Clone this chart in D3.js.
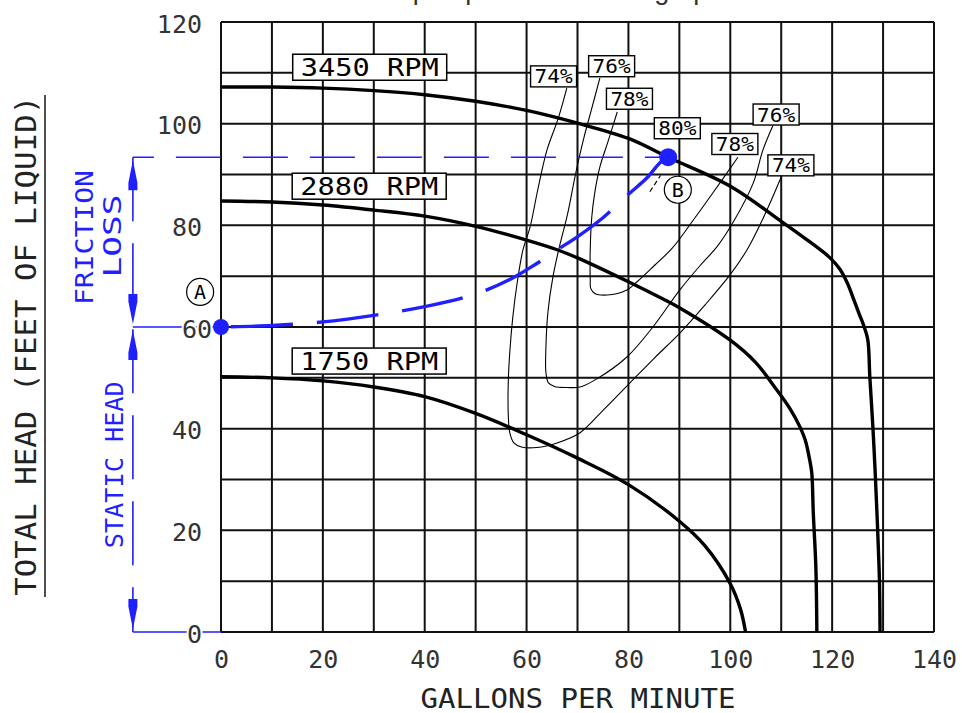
<!DOCTYPE html>
<html><head><meta charset="utf-8">
<script src="https://cdn.jsdelivr.net/npm/d3@7"></script>
<style>body{margin:0;background:#fff}svg{display:block}</style>
</head><body>
<svg id="chart" width="962" height="713"></svg>
<script>
// ---------- data ----------
const xTicks = [0, 20, 40, 60, 80, 100, 120, 140];
const yTicks = [0, 20, 40, 60, 80, 100, 120];
const rpmNames = ["3450 RPM", "2880 RPM", "1750 RPM"];
const rpm3450 = [[0,107.2],[10,107.2],[20,107],[30,106.5],[40,105.7],[50,104.4],[60,102.6],[70,100.1],[80,97.1],[87.8,93.4],[100,87.7],[110,80.8],[115,77.2],[119.6,73.6],[121.5,71.4],[123,68.6],[124.1,65.8],[125.3,62.6],[126.3,60],[127,57.5],[127.4,50.2],[128,40.3],[128.4,32.5],[128.8,23.4],[129.3,9.6],[129.4,0]];
const rpm2880 = [[0,84.8],[10,84.6],[20,84],[30,83],[40,81.8],[50,79.8],[60,77.1],[66,75.2],[70,73.6],[80,68.9],[86.8,65.5],[90,63.8],[100,57.4],[105,53],[109,47.8],[111.8,43.8],[113.7,40.3],[114.7,37.8],[115.6,33.8],[116,31.3],[116.3,23.4],[116.8,12.8],[117,0]];
const rpm1750 = [[0,50.2],[10,50],[20,49.4],[30,48.2],[40,46.3],[50,43],[60,38.8],[70,34.2],[80,29],[90,21.8],[95,17],[100,9.5],[102,4.5],[103,0]];
const effNames = ["74%", "76%", "78%", "80%"];
const eff74 = [[67.9,107.0],[66.2,101],[64.0,94.8],[62.2,87],[60.7,79.7],[59.3,75.2],[58.2,69],[57.3,62],[56.7,55],[56.4,49],[56.4,43],[56.7,39.2],[57.5,37.2],[59,36.4],[62,36.3],[66,37.2],[70.5,39.2],[75,43.6],[80.3,49],[85,53.8],[90.1,58.8],[95,64.3],[99.9,70.2],[103.3,75.2],[106.5,81.5],[110.0,89.5]];
const eff76 = [[74.4,109],[72.8,103],[71.2,97],[69.6,90],[68,82],[66.5,76],[65.2,70],[64.2,63],[63.8,56],[63.8,51],[64.3,49],[65.5,48.3],[68,48.1],[70.5,48.2],[73.8,49.8],[79.7,54.1],[84.8,60],[90.1,67.3],[94,72],[97.4,75.8],[100.5,80.5],[104.5,88.3],[106.4,94.8],[108.4,99.7]];
const eff78 = [[77.8,102.3],[76,96.5],[74.4,91.5],[73.4,86.5],[72.8,81.6],[72.5,75.2],[72.5,69.3],[72.6,67.6],[73.4,66.6],[75.8,66.3],[79.7,67.3],[81.7,68.9],[85.2,72.2],[88.6,75.5],[92.5,80.7],[96.6,86.4],[101.5,93.4]];
const eff80 = [[84.2,86.6],[86.3,89.8]];
const systemCurve = [[0,60],[10,60.3],[20,61],[30,62.3],[40,64],[50,66.5],[57,69.5],[62,72.5],[66,75.2],[69.9,77.7],[75,81.5],[79.9,86],[83.6,89.3],[86.2,92.3],[87.8,93.4]];
const pointA = [0, 60];
const pointB = [87.8, 93.4];
const staticHead = 60;
const totalHead = 93.4;

// ---------- setup ----------
const svg = d3.select("#chart");
const x = d3.scaleLinear().domain([0, 140]).range([221, 934]);
const y = d3.scaleLinear().domain([0, 120]).range([632, 22]);
const CAD = "'DejaVu Sans Mono', monospace";
const BLUE = "#1f1fff";

// title (cut off at the top edge, as in the source image)
svg.append("text").attr("x", 568).attr("y", -1).attr("text-anchor", "middle")
  .attr("font-family", "'Liberation Sans', Arial, sans-serif").attr("font-size", 27)
  .attr("fill", "#333").text("pump characteristic graph");

// grid
const g = svg.append("g");
g.selectAll(".vg").data(d3.range(0, 141, 10)).join("line")
  .attr("x1", d => x(d)).attr("x2", d => x(d)).attr("y1", y(0)).attr("y2", y(120))
  .attr("stroke", "#111").attr("stroke-width", 2);
g.selectAll(".hg").data(d3.range(0, 121, 10)).join("line")
  .attr("y1", d => y(d)).attr("y2", d => y(d)).attr("x1", x(0)).attr("x2", x(140))
  .attr("stroke", "#111").attr("stroke-width", 2);

const line = d3.line().x(d => x(d[0])).y(d => y(d[1])).curve(d3.curveCatmullRom.alpha(0.5));

// efficiency contours
[eff74, eff76, eff78].forEach(c => {
  svg.append("path").attr("d", line(c)).attr("fill", "none").attr("stroke", "#000").attr("stroke-width", 1.1);
});
svg.append("path").attr("d", line(eff80)).attr("fill", "none").attr("stroke", "#000")
  .attr("stroke-width", 1.1).attr("stroke-dasharray", "5,3");

// pump curves
[rpm3450, rpm2880, rpm1750].forEach(c => {
  svg.append("path").attr("d", line(c)).attr("fill", "none").attr("stroke", "#000").attr("stroke-width", 3.4);
});

// blue annotations
const dimX = -17.3;
svg.append("line").attr("x1", x(dimX)).attr("x2", x(pointB[0]) - 6).attr("y1", y(totalHead)).attr("y2", y(totalHead))
  .attr("stroke", BLUE).attr("stroke-width", 1.6).attr("stroke-dasharray", "45,22").attr("stroke-dashoffset", 24);
svg.append("line").attr("x1", x(dimX)).attr("x2", x(0)).attr("y1", y(staticHead)).attr("y2", y(staticHead))
  .attr("stroke", BLUE).attr("stroke-width", 1.6);
svg.append("line").attr("x1", x(dimX)).attr("x2", x(0)).attr("y1", y(0)).attr("y2", y(0))
  .attr("stroke", BLUE).attr("stroke-width", 1.6);
svg.append("line").attr("x1", x(dimX)).attr("x2", x(dimX)).attr("y1", y(totalHead)).attr("y2", y(0))
  .attr("stroke", BLUE).attr("stroke-width", 1.6).attr("stroke-dasharray", "64,22");

function arrow(level, dir) { // dir -1 up-pointing (tip at top), +1 down-pointing
  const tx = x(dimX), ty = y(level) + (dir < 0 ? 3 : -3);
  const L = 30 * (dir < 0 ? 1 : -1);
  svg.append("path")
    .attr("d", `M${tx},${ty} L${tx - 4.5},${ty + L * 0.75} L${tx - 4.5},${ty + L} L${tx + 4.5},${ty + L} L${tx + 4.5},${ty + L * 0.75} Z`)
    .attr("fill", BLUE);
}
arrow(totalHead, -1);
arrow(staticHead, 1);
arrow(staticHead, -1);
arrow(0, 1);

svg.append("path").attr("d", line(systemCurve)).attr("fill", "none").attr("stroke", BLUE)
  .attr("stroke-width", 3.4).attr("stroke-dasharray", "62,24").attr("stroke-dashoffset", -10);
svg.append("circle").attr("cx", x(pointA[0])).attr("cy", y(pointA[1])).attr("r", 8).attr("fill", BLUE);
svg.append("circle").attr("cx", x(pointB[0])).attr("cy", y(pointB[1])).attr("r", 9).attr("fill", BLUE);

// circled A / B
[["A", -4.1, 66.9], ["B", 89.7, 87]].forEach(([t, gx, gy]) => {
  svg.append("circle").attr("cx", x(gx)).attr("cy", y(gy)).attr("r", 13.5)
    .attr("fill", "#fff").attr("stroke", "#000").attr("stroke-width", 1.2);
  svg.append("text").attr("x", x(gx)).attr("y", y(gy) + 7).attr("text-anchor", "middle")
    .attr("font-family", CAD).attr("font-size", 20).attr("fill", "#000").text(t);
});

// blue vertical texts
function vtext(t, gx, gy, len, color, size) {
  return svg.append("text").attr("transform", `translate(${x(gx)},${y(gy)}) rotate(-90)`)
    .attr("text-anchor", "middle").attr("dominant-baseline", "central")
    .attr("font-family", CAD).attr("font-size", size).attr("fill", color)
    .attr("textLength", len).attr("lengthAdjust", "spacingAndGlyphs").text(t);
}
vtext("FRICTION", -26.8, 77.6, 135, BLUE, 25);
vtext("LOSS", -21.3, 77.9, 83, BLUE, 25);
vtext("STATIC HEAD", -20.9, 32.9, 167, BLUE, 25);

// y title
vtext("TOTAL HEAD (FEET OF LIQUID)", -38.3, 56.3, 500, "#222", 29);
svg.append("line").attr("x1", 45).attr("x2", 45).attr("y1", 95).attr("y2", 597)
  .attr("stroke", "#222").attr("stroke-width", 1.6);

// RPM label boxes
const rpmPos = [[29.2, 111.1], [29.1, 87.7], [29.1, 53.3]];
rpmNames.forEach((t, i) => {
  const cx = x(rpmPos[i][0]), cy = y(rpmPos[i][1]);
  svg.append("rect").attr("x", cx - 77).attr("y", cy - 13).attr("width", 154).attr("height", 26)
    .attr("fill", "#fff").attr("stroke", "#000").attr("stroke-width", 1.5);
  svg.append("text").attr("x", cx).attr("y", cy + 9).attr("text-anchor", "middle")
    .attr("font-family", CAD).attr("font-size", 24).attr("fill", "#000")
    .attr("textLength", 138).attr("lengthAdjust", "spacingAndGlyphs").text(t);
});

// efficiency label boxes
const effLabels = [[0, 65.3, 109.3], [1, 76.7, 111.3], [2, 80.2, 104.9], [3, 89.6, 99.1],
                   [1, 109.0, 101.8], [2, 100.9, 96.0], [0, 111.9, 91.8]];
effLabels.forEach(([k, gx, gy]) => {
  const cx = x(gx), cy = y(gy);
  svg.append("rect").attr("x", cx - 23).attr("y", cy - 10.5).attr("width", 46).attr("height", 21)
    .attr("fill", "#fff").attr("stroke", "#000").attr("stroke-width", 1.4);
  svg.append("text").attr("x", cx).attr("y", cy + 7).attr("text-anchor", "middle")
    .attr("font-family", CAD).attr("font-size", 19).attr("fill", "#000")
    .attr("textLength", 38).attr("lengthAdjust", "spacingAndGlyphs").text(effNames[k]);
});

// axes
const yAxis = svg.append("g").attr("transform", `translate(${x(0)},0)`)
  .call(d3.axisLeft(y).tickValues(yTicks).tickSize(0).tickPadding(19));
const xAxis = svg.append("g").attr("transform", `translate(0,${y(0)})`)
  .call(d3.axisBottom(x).tickValues(xTicks).tickSize(0).tickPadding(18));
[yAxis, xAxis].forEach(a => {
  a.select(".domain").remove();
  a.selectAll("text").attr("font-family", CAD).attr("font-size", 25).attr("fill", "#333")
    .attr("stroke", "#fff").attr("stroke-width", 4).attr("paint-order", "stroke");
});
yAxis.selectAll(".tick text").attr("dy", "0.4em").filter(d => d === 60).attr("dx", 10);

// x title
svg.append("text").attr("x", 578).attr("y", 708).attr("text-anchor", "middle")
  .attr("font-family", CAD).attr("font-size", 27).attr("fill", "#222")
  .attr("textLength", 315).attr("lengthAdjust", "spacingAndGlyphs").text("GALLONS PER MINUTE");
</script>
</body></html>
